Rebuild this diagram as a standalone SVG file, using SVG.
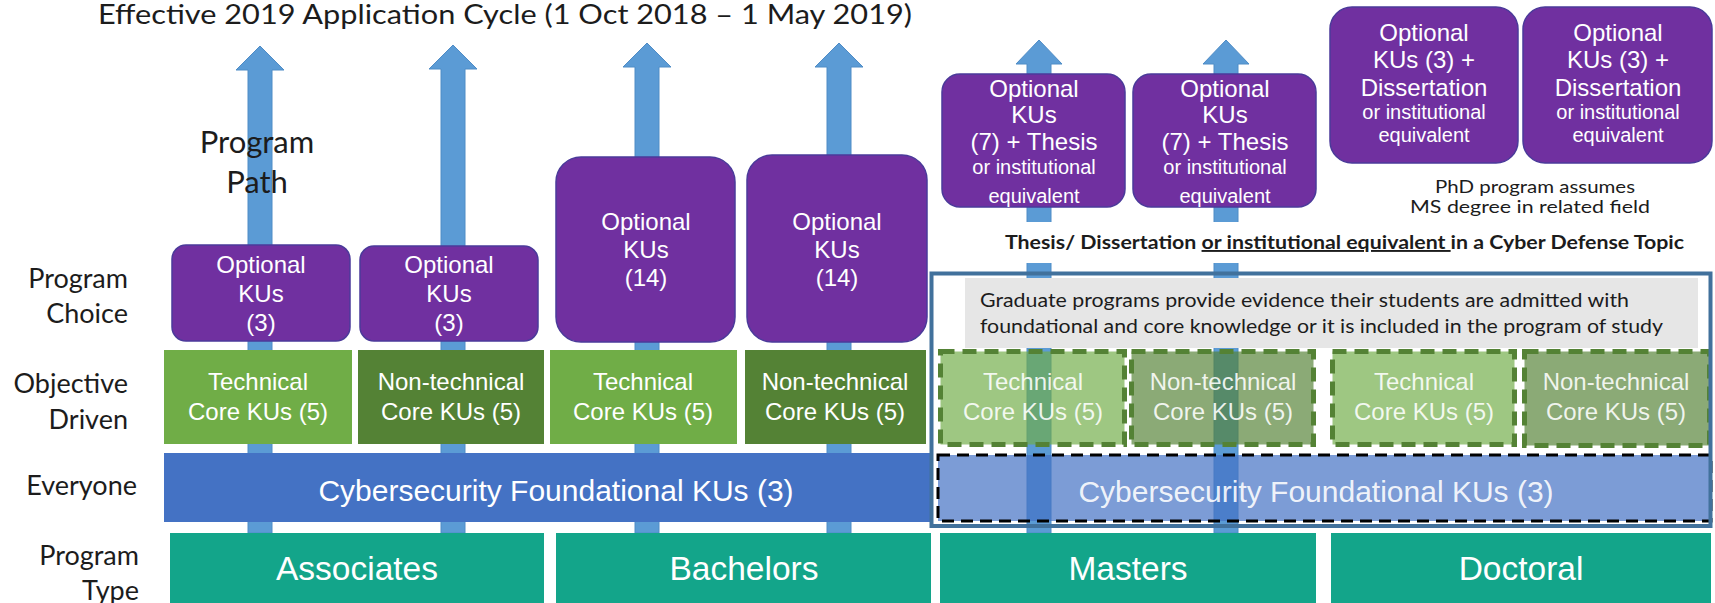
<svg xmlns="http://www.w3.org/2000/svg" width="1715" height="603" viewBox="0 0 1715 603">
<style>
.cal{font-family:Lato,"Open Sans","Liberation Sans",sans-serif;fill:#1c1c1c}
.rl{font-family:Lato,"Open Sans","Liberation Sans",sans-serif;fill:#1c1c1c;font-size:27px;text-anchor:end}
.ar{font-family:"Liberation Sans",Arial,sans-serif;fill:#ffffff;text-anchor:middle}
.t24{font-size:24px}
.t20{font-size:20px}
.t30{font-size:30px}
.t34{font-size:33.5px}
.purple{fill:#7030A0;stroke:#4B3A9A;stroke-width:1.5}
.tech{fill:#70AD47}
.ntech{fill:#548235}
.teal{fill:#13A58A}
.arrow{fill:#5B9BD5;stroke:#4F8CC6;stroke-width:1}
.gdash{stroke:#548235;stroke-width:5;stroke-dasharray:14 8;fill-opacity:0.68}
.gtxt{fill-opacity:0.88}
</style>

<!-- title -->
<text id="title" class="cal" x="98" y="24" font-size="26" textLength="814" lengthAdjust="spacingAndGlyphs">Effective 2019 Application Cycle (1 Oct 2018 – 1 May 2019)</text>

<!-- row labels -->
<g id="row-labels">
<text class="rl" x="128" y="288">Program</text>
<text class="rl" x="128" y="323">Choice</text>
<text class="rl" x="128" y="393">Objective</text>
<text class="rl" x="128" y="429">Driven</text>
<text class="rl" x="137" y="495">Everyone</text>
<text class="rl" x="139" y="565">Program</text>
<text class="rl" x="139" y="600">Type</text>
</g>

<!-- connectors: program path arrows -->
<g id="connectors">
<polygon class="arrow" points="260,46 284,70 272,70 272,533 248,533 248,70 236,70"/>
<polygon class="arrow" points="453,45 477,69 465,69 465,533 441,533 441,69 429,69"/>
<polygon class="arrow" points="647,43 671,67 659,67 659,533 635,533 635,67 623,67"/>
<polygon class="arrow" points="839,43 863,67 851,67 851,533 827,533 827,67 815,67"/>
<polygon class="arrow" points="1039,40 1062,64 1051,64 1051,533 1027,533 1027,64 1016,64"/>
<polygon class="arrow" points="1226,40 1249,64 1238,64 1238,533 1214,533 1214,64 1203,64"/>
</g>

<!-- program type -->
<g id="associates"><rect class="teal" x="170" y="533" width="374" height="70"/><text class="ar t34" x="357" y="580">Associates</text></g>
<g id="bachelors"><rect class="teal" x="556" y="533" width="375" height="70"/><text class="ar t34" x="744" y="580">Bachelors</text></g>
<g id="masters"><rect class="teal" x="940" y="533" width="376" height="70"/><text class="ar t34" x="1128" y="580">Masters</text></g>
<g id="doctoral"><rect class="teal" x="1331" y="533" width="380" height="70"/><text class="ar t34" x="1521" y="580">Doctoral</text></g>

<!-- foundational (undergrad) -->
<g id="foundational-ug"><rect x="164" y="453" width="768" height="69" fill="#4472C4"/><text class="ar t30" x="556" y="501">Cybersecurity Foundational KUs (3)</text></g>

<!-- core KUs undergrad -->
<g id="assoc-tech"><rect class="tech" x="164" y="350" width="188" height="94"/><text class="ar t24" x="258" y="390">Technical</text><text class="ar t24" x="258" y="420">Core KUs (5)</text></g>
<g id="assoc-nontech"><rect class="ntech" x="358" y="350" width="186" height="94"/><text class="ar t24" x="451" y="390">Non-technical</text><text class="ar t24" x="451" y="420">Core KUs (5)</text></g>
<g id="bach-tech"><rect class="tech" x="550" y="350" width="187" height="94"/><text class="ar t24" x="643" y="390">Technical</text><text class="ar t24" x="643" y="420">Core KUs (5)</text></g>
<g id="bach-nontech"><rect class="ntech" x="745" y="350" width="181" height="94"/><text class="ar t24" x="835" y="390">Non-technical</text><text class="ar t24" x="835" y="420">Core KUs (5)</text></g>

<!-- optional KUs undergrad -->
<g id="assoc-opt1"><rect class="purple" x="172" y="245" width="178" height="96" rx="14"/><text class="ar t24" x="261" y="273">Optional</text><text class="ar t24" x="261" y="302">KUs</text><text class="ar t24" x="261" y="331">(3)</text></g>
<g id="assoc-opt2"><rect class="purple" x="360" y="246" width="178" height="95" rx="14"/><text class="ar t24" x="449" y="273">Optional</text><text class="ar t24" x="449" y="302">KUs</text><text class="ar t24" x="449" y="331">(3)</text></g>
<g id="bach-opt1"><rect class="purple" x="556" y="157" width="179" height="185" rx="25"/><text class="ar t24" x="646" y="230">Optional</text><text class="ar t24" x="646" y="258">KUs</text><text class="ar t24" x="646" y="286">(14)</text></g>
<g id="bach-opt2"><rect class="purple" x="747" y="155" width="180" height="187" rx="25"/><text class="ar t24" x="837" y="230">Optional</text><text class="ar t24" x="837" y="258">KUs</text><text class="ar t24" x="837" y="286">(14)</text></g>

<!-- program path label -->
<g id="program-path">
<text class="cal" x="257" y="153" font-size="31" text-anchor="middle">Program</text>
<text class="cal" x="257" y="193" font-size="31" text-anchor="middle">Path</text>
</g>

<!-- thesis line -->
<g id="thesis-note">
<rect x="990" y="222" width="710" height="41" fill="#ffffff"/>
<text class="cal" x="1005" y="249" font-size="19" font-weight="bold" textLength="679" lengthAdjust="spacingAndGlyphs">Thesis/ Dissertation <tspan text-decoration="underline">or institutional equivalent </tspan>in a Cyber Defense Topic</text>
</g>

<!-- masters optional -->
<g id="masters-opt1"><rect class="purple" x="942" y="74" width="183" height="133" rx="18"/>
<text class="ar t24" x="1034" y="97">Optional</text><text class="ar t24" x="1034" y="123">KUs</text><text class="ar t24" x="1034" y="150">(7) + Thesis</text><text class="ar t20" x="1034" y="174">or institutional</text><text class="ar t20" x="1034" y="203">equivalent</text></g>
<g id="masters-opt2"><rect class="purple" x="1133" y="74" width="183" height="133" rx="18"/>
<text class="ar t24" x="1225" y="97">Optional</text><text class="ar t24" x="1225" y="123">KUs</text><text class="ar t24" x="1225" y="150">(7) + Thesis</text><text class="ar t20" x="1225" y="174">or institutional</text><text class="ar t20" x="1225" y="203">equivalent</text></g>

<!-- doctoral optional -->
<g id="doctoral-opt1"><rect class="purple" x="1330" y="7" width="188" height="156" rx="22"/>
<text class="ar t24" x="1424" y="41">Optional</text><text class="ar t24" x="1424" y="68">KUs (3) +</text><text class="ar t24" x="1424" y="96">Dissertation</text><text class="ar t20" x="1424" y="119">or institutional</text><text class="ar t20" x="1424" y="142">equivalent</text></g>
<g id="doctoral-opt2"><rect class="purple" x="1523" y="7" width="189" height="156" rx="22"/>
<text class="ar t24" x="1618" y="41">Optional</text><text class="ar t24" x="1618" y="68">KUs (3) +</text><text class="ar t24" x="1618" y="96">Dissertation</text><text class="ar t20" x="1618" y="119">or institutional</text><text class="ar t20" x="1618" y="142">equivalent</text></g>

<g id="phd-note">
<text class="cal" x="1535" y="193" font-size="18" text-anchor="middle" textLength="200" lengthAdjust="spacingAndGlyphs">PhD program assumes</text>
<text class="cal" x="1530" y="213" font-size="18" text-anchor="middle" textLength="240" lengthAdjust="spacingAndGlyphs">MS degree in related field</text>
</g>

<!-- graduate frame contents -->
<g id="graduate-note">
<rect x="965" y="278" width="733" height="70" fill="#E6E6E6"/>
<text class="cal" x="980" y="307" font-size="18.5" textLength="649" lengthAdjust="spacingAndGlyphs">Graduate programs provide evidence their students are admitted with</text>
<text class="cal" x="980" y="333" font-size="18.5" textLength="683" lengthAdjust="spacingAndGlyphs">foundational and core knowledge or it is included in the program of study</text>
</g>

<g id="grad-tech1"><rect class="gdash" x="940.5" y="351.5" width="184" height="93" fill="#70AD47"/><text class="ar t24 gtxt" x="1033" y="390">Technical</text><text class="ar t24 gtxt" x="1033" y="420">Core KUs (5)</text></g>
<g id="grad-nontech1"><rect class="gdash" x="1131.5" y="351.5" width="182" height="93" fill="#548235"/><text class="ar t24 gtxt" x="1223" y="390">Non-technical</text><text class="ar t24 gtxt" x="1223" y="420">Core KUs (5)</text></g>
<g id="grad-tech2"><rect class="gdash" x="1332.5" y="351.5" width="182" height="93" fill="#70AD47"/><text class="ar t24 gtxt" x="1424" y="390">Technical</text><text class="ar t24 gtxt" x="1424" y="420">Core KUs (5)</text></g>
<g id="grad-nontech2"><rect class="gdash" x="1524.5" y="351.5" width="185" height="94" fill="#548235"/><text class="ar t24 gtxt" x="1616" y="390">Non-technical</text><text class="ar t24 gtxt" x="1616" y="420">Core KUs (5)</text></g>

<g id="foundational-grad"><rect x="938" y="455" width="773" height="66" fill="#4472C4" fill-opacity="0.7" stroke="#000000" stroke-width="3" stroke-dasharray="12 7"/><text class="ar t30" x="1316" y="502" fill-opacity="0.9">Cybersecurity Foundational KUs (3)</text></g>

<rect id="graduate-frame" x="931.5" y="273.5" width="779" height="252.5" fill="none" stroke="#41719C" stroke-width="4"/>
</svg>
